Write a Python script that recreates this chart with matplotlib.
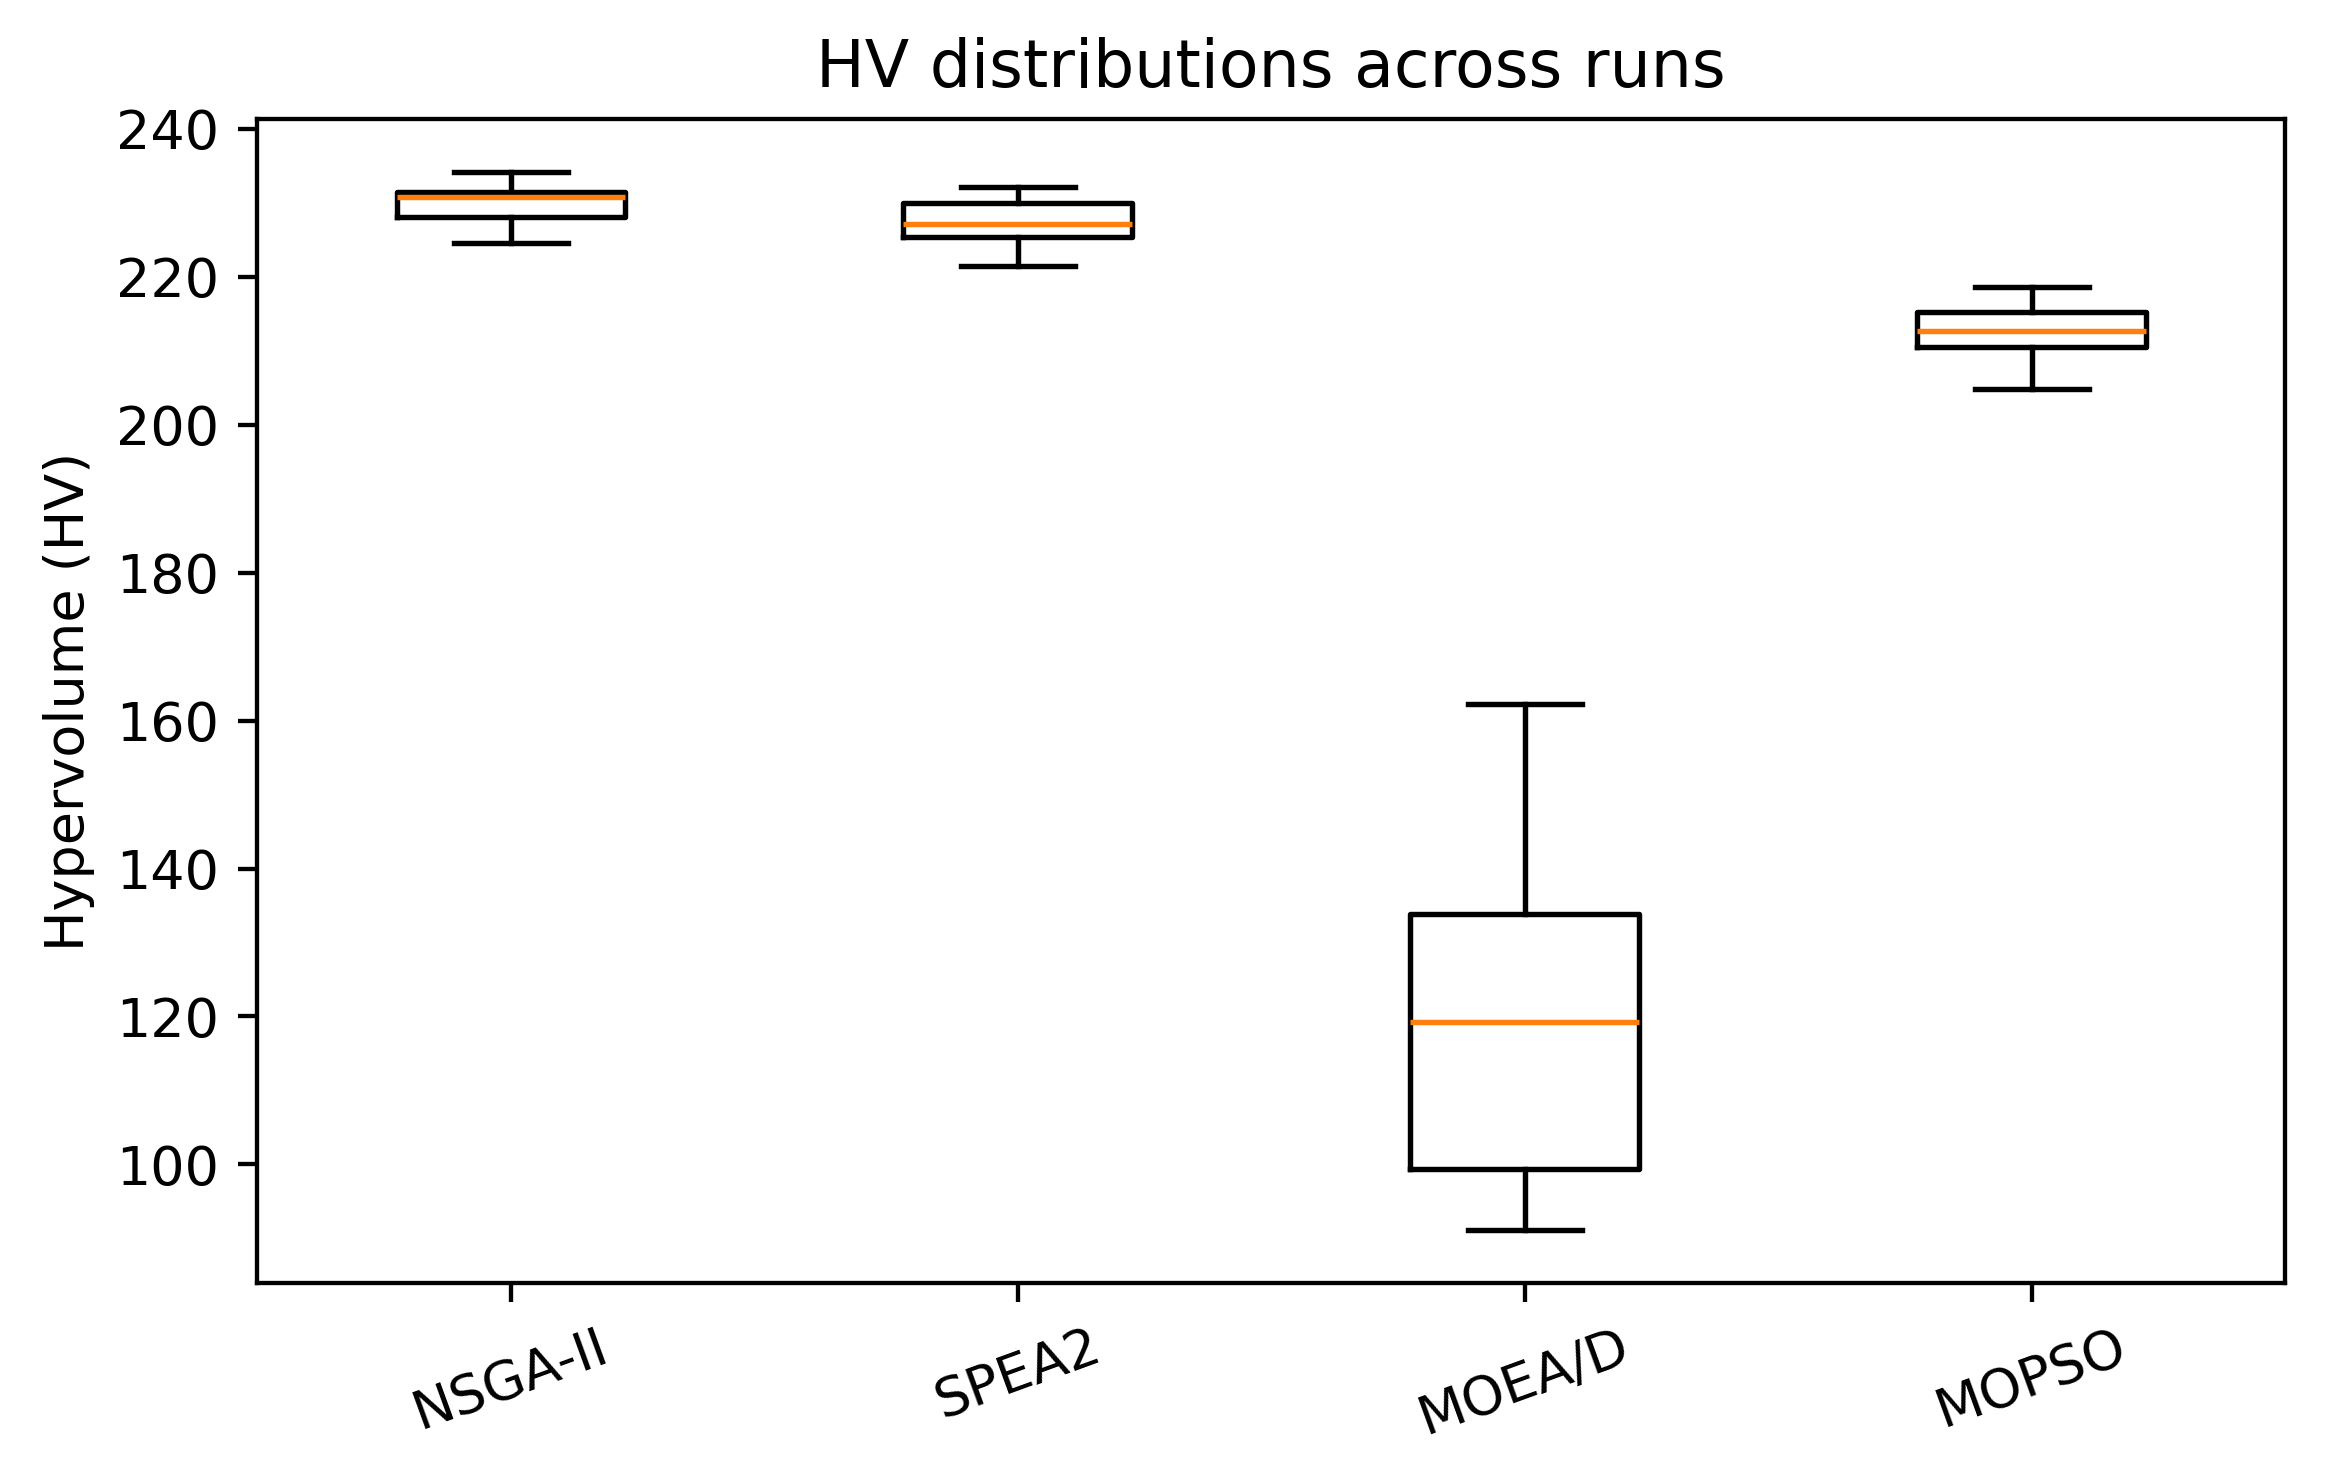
import matplotlib
matplotlib.use("Agg")
import matplotlib.pyplot as plt

# values
algorithms = ["NSGA-II", "SPEA2", "MOEA/D", "MOPSO"]
whisker_low = [224.6, 221.5, 91.1, 204.8]
q1 = [228.1, 225.4, 99.4, 210.5]
median = [230.8, 227.2, 119.3, 212.7]
q3 = [231.5, 230.0, 133.8, 215.3]
whisker_high = [234.2, 232.1, 162.2, 218.7]

stats = []
for i in range(len(algorithms)):
    stats.append({
        "label": algorithms[i],
        "whislo": whisker_low[i],
        "q1": q1[i],
        "med": median[i],
        "q3": q3[i],
        "whishi": whisker_high[i],
        "fliers": [],
    })

DPI = 389
fig = plt.figure(figsize=(2335 / DPI, 1458 / DPI), dpi=DPI)
ax = fig.add_axes([0.1101, 0.1200, 0.8685, 0.7984])

ax.bxp(stats, showfliers=False)
ax.set_title("HV distributions across runs")
ax.set_ylabel("Hypervolume (HV)")
ax.tick_params(axis="x", labelrotation=20)

fig.savefig("out.png", dpi=DPI)
